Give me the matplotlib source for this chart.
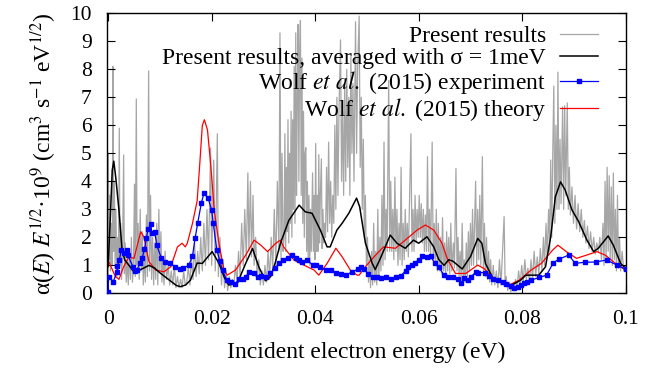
import numpy as np
import matplotlib
matplotlib.use("Agg")
import matplotlib.pyplot as plt

# ---- data (energies in meV, values in 1e-9 cm^3 s^-1 eV^1/2) ----------------
pres_mev = [
    0.0, 0.05, 0.15, 0.3, 0.45, 0.6, 0.8, 0.93, 1.05, 1.2, 1.35, 1.5, 1.7, 1.85, 2.0, 2.16, 2.3, 2.45, 2.6, 2.8,
    3.0, 3.15, 3.3, 3.5, 3.7, 3.9, 4.1, 4.3, 4.5, 4.7, 4.9, 5.1, 5.25, 5.45, 5.6, 5.8, 6.0, 6.2, 6.4, 6.6,
    6.8, 7.0, 7.2, 7.4, 7.6, 7.83, 8.0, 8.2, 8.4, 8.6, 8.8, 9.0, 9.2, 9.4, 9.6, 9.8, 10.0, 10.2, 10.4, 10.6,
    10.8, 11.0, 11.3, 11.6, 11.9, 12.2, 12.5, 12.8, 13.1, 13.4, 13.7, 14.0, 14.3, 14.6, 14.9, 15.2, 15.5, 15.8, 16.1, 16.4,
    16.7, 17.0, 17.3, 17.6, 17.9, 18.2, 18.5, 18.8, 19.1, 19.4, 19.8, 20.0, 20.4, 20.7, 21.1, 21.3, 21.6, 21.9, 22.2, 22.5,
    22.8, 23.1, 23.4, 23.7, 24.0, 24.3, 24.6, 24.9, 25.2, 25.5, 25.8, 26.1, 26.4, 26.7, 27.0, 27.2, 27.5, 27.7, 28.0, 28.2,
    28.5, 28.8, 29.1, 29.4, 29.7, 30.0, 30.3, 30.6, 30.9, 31.2, 31.5, 31.8, 32.1, 32.4, 32.7, 33.0, 33.2, 33.4, 33.6, 33.8,
    34.0, 34.15, 34.3, 34.45, 34.6, 34.75, 34.9, 35.05, 35.2, 35.35, 35.5, 35.65, 35.8, 35.95, 36.1, 36.25, 36.4, 36.55, 36.7, 36.85,
    37.0, 37.15, 37.3, 37.45, 37.6, 37.75, 37.9, 38.05, 38.2, 38.35, 38.5, 38.65, 38.8, 38.95, 39.1, 39.25, 39.5, 39.65, 39.8, 39.95,
    40.1, 40.25, 40.4, 40.55, 40.7, 40.85, 41.0, 41.2, 41.35, 41.5, 41.65, 41.8,
    42.0, 42.2, 42.4, 42.6, 42.8, 43.0, 43.2, 43.4, 43.6, 43.8, 44.0, 44.2, 44.4, 44.6, 44.9, 45.1, 45.3, 45.5, 45.7, 45.9,
    46.1, 46.3, 46.5, 46.7, 46.9, 47.1, 47.3, 47.5, 47.8, 48.0, 48.2, 48.5, 48.7, 48.9, 49.1, 49.3, 49.5, 49.7, 49.9, 50.1,
    50.3, 50.5, 50.7, 50.9, 51.1, 51.3, 51.5, 51.7, 51.9, 52.1, 52.3, 52.5, 52.7, 52.9, 53.1, 53.3, 53.5, 53.7, 53.9, 54.2,
    54.4, 54.6, 54.8, 55.0, 55.2, 55.4, 55.6, 55.8, 56.0, 56.2, 56.4, 56.6, 56.8, 57.0, 57.2, 57.4, 57.6, 57.8,
    58.0, 58.2, 58.5, 58.7, 58.9, 59.1, 59.3, 59.5, 59.7, 59.9, 60.1, 60.3, 60.5, 60.7, 60.9, 61.1, 61.3, 61.5, 61.7, 61.9,
    62.1, 62.3, 62.6, 62.8, 63.0, 63.2, 63.4, 63.6, 63.8, 64.0, 64.2, 64.4, 64.6, 64.8, 65.0, 65.2, 65.4, 65.6,
    65.8, 66.0, 66.2, 66.4, 66.7, 66.9, 67.2, 67.4, 67.6, 67.8, 68.0, 68.2, 68.4, 68.6, 68.8, 69.0, 69.2, 69.4, 69.6, 69.8,
    70.0, 70.2, 70.4, 70.6, 71.0, 71.2, 71.4, 71.6, 71.8, 72.0, 72.3, 72.5, 72.7, 72.9, 73.1, 73.3, 73.5, 73.7, 73.9, 74.1,
    74.4, 74.7, 75.0, 75.3, 75.6, 75.9, 76.2, 76.5, 76.7, 76.9, 77.2, 77.5, 77.8, 78.1, 78.4, 78.7, 79.0, 79.3, 79.6, 79.9,
    80.2, 80.5, 80.8, 81.1, 81.4,
    81.7, 82.0, 82.3, 82.6, 82.9, 83.2, 83.5, 83.8, 84.1, 84.3, 84.6, 84.8, 85.1, 85.3, 85.5, 85.7, 85.9, 86.1, 86.3, 86.5,
    86.7, 86.9, 87.1, 87.3, 87.5, 87.8, 88.0, 88.2, 88.4, 88.7, 88.9, 89.1, 89.3, 89.6, 89.9, 90.2, 90.5, 90.8, 91.1, 91.4,
    91.7, 92.0, 92.3, 92.6, 92.9, 93.2, 93.5, 93.8, 94.1, 94.4, 94.7, 95.0, 95.3, 95.6, 95.8, 96.0, 96.2, 96.4, 96.6, 96.8,
    97.0, 97.2, 97.4, 97.6, 97.8, 98.0, 98.2, 98.4, 98.6, 98.8, 99.0, 99.3, 99.6, 100.0,
]
pres_val = [
    0.3, 5.0, 1.2, 3.5, 0.8, 2.5, 1.0, 8.1, 1.5, 4.0, 0.9, 3.0, 0.6, 2.0, 0.7, 5.9, 1.0, 2.5, 0.5, 1.5,
    4.94, 0.7, 1.8, 0.4, 1.2, 0.3, 1.6, 0.5, 2.0, 0.4, 1.0, 3.9, 0.6, 6.94, 1.0, 2.5, 0.5, 3.0, 0.8, 2.2,
    0.3, 1.5, 0.4, 2.8, 0.6, 7.94, 0.8, 3.5, 0.5, 2.0, 0.3, 1.8, 0.5, 2.5, 0.3, 3.0, 0.8, 2.2, 0.4, 1.2,
    0.3, 1.5, 0.5, 1.0, 0.3, 0.8, 0.3, 1.0, 0.2, 0.6, 0.2, 0.5, 0.2, 0.8, 0.3, 0.4, 1.0, 0.3, 1.3, 0.5,
    1.8, 0.6, 1.5, 0.7, 2.0, 0.8, 2.5, 1.0, 3.0, 1.2, 5.19, 1.0, 4.76, 0.8, 5.7, 0.6, 2.0, 0.3, 1.2, 0.2,
    0.8, 0.1, 0.6, 0.2, 0.5, 0.3, 1.0, 0.4, 1.5, 0.6, 2.5, 1.0, 3.0, 1.2, 4.3, 1.5, 4.0, 1.3, 3.5, 1.0,
    2.0, 0.5, 1.2, 0.3, 0.8, 0.3, 1.0, 0.4, 1.5, 0.5, 2.0, 0.8, 3.0, 1.0, 4.0, 1.5, 9.3, 1.2, 5.0, 1.5,
    2.0, 5.7, 1.5, 4.5, 2.2, 6.2, 1.8, 5.0, 2.5, 6.5, 2.0, 6.2, 3.0, 8.1, 2.5, 9.3, 3.5, 7.0, 9.6, 4.0,
    8.5, 9.74, 3.5, 8.4, 2.5, 6.5, 2.0, 5.0, 5.2, 1.5, 4.0, 1.2, 3.5, 1.0, 3.0, 1.5, 4.3, 1.5, 3.5, 1.2,
    5.35, 1.5, 3.5, 1.5, 4.95, 1.8, 3.5, 4.8, 1.6, 3.0, 1.8, 2.5,
    2.0, 4.5, 2.2, 5.4, 2.5, 4.0, 2.0, 3.5, 2.5, 6.0, 3.0, 7.0, 3.5, 6.5, 9.05, 4.0, 6.5, 3.5, 7.5, 4.0,
    8.0, 4.5, 7.0, 3.5, 8.5, 5.0, 7.5, 4.0, 9.7, 5.0, 8.0, 9.9, 4.5, 7.0, 3.0, 5.5, 2.0, 3.5, 1.0, 2.0,
    0.4, 1.2, 0.2, 1.5, 0.3, 2.5, 0.4, 1.5, 0.3, 3.0, 0.5, 2.0, 0.8, 3.5, 1.0, 5.4, 1.2, 3.0, 1.5, 7.6,
    1.5, 4.0, 1.5, 3.0, 1.2, 4.15, 1.5, 3.0, 1.0, 2.5, 1.2, 4.5, 1.0, 2.5, 1.2, 3.0, 1.5, 2.5,
    1.3, 3.0, 5.7, 1.5, 3.0, 1.5, 3.5, 1.8, 3.0, 2.0, 3.5, 2.0, 3.2, 1.8, 3.0, 1.5, 2.8, 1.5, 4.88, 1.5,
    3.0, 1.2, 5.4, 1.2, 2.5, 1.0, 3.0, 0.8, 2.5, 0.8, 2.0, 0.7, 2.7, 0.8, 1.8, 0.6, 2.2, 0.8,
    2.0, 0.7, 2.5, 0.8, 1.8, 0.9, 4.46, 0.8, 2.0, 0.6, 1.5, 0.5, 2.5, 0.5, 1.2, 0.4, 1.8, 0.6, 2.2, 0.8,
    2.5, 1.0, 3.0, 1.0, 4.0, 1.0, 3.0, 1.2, 3.5, 1.0, 4.88, 0.8, 2.5, 0.6, 2.0, 0.5, 1.5, 0.4, 1.2, 0.3,
    1.0, 0.3, 0.8, 0.2, 1.2, 0.3, 1.5, 2.74, 0.3, 0.6, 0.1, 0.4, 0.05, 0.3, 0.1, 0.5, 0.2, 0.8, 0.3, 1.0,
    0.4, 1.2, 0.5, 0.9, 0.4,
    1.2, 0.5, 1.5, 0.6, 1.3, 0.7, 1.6, 0.8, 2.0, 1.0, 2.5, 1.3, 3.0, 1.5, 4.76, 2.0, 5.0, 7.4, 2.5, 6.0,
    3.0, 7.9, 3.0, 5.5, 3.2, 6.66, 3.0, 6.7, 3.5, 6.8, 3.0, 4.5, 2.8, 3.8, 2.5, 3.5, 2.3, 3.2, 2.2, 3.0,
    2.0, 2.6, 1.8, 2.4, 1.6, 2.2, 1.5, 2.0, 1.4, 1.8, 1.5, 2.0, 1.2, 2.5, 1.0, 4.0, 1.2, 4.5, 1.5, 4.2,
    1.2, 3.8, 1.0, 4.3, 1.2, 3.0, 0.8, 3.5, 0.9, 2.0, 0.8, 1.5, 0.8, 1.0,
]

avg_mev = [0.0, 0.4, 0.8, 1.1, 1.5, 2.1, 2.7, 3.2, 3.7, 5.0, 6.3, 7.9, 9.0, 10.1, 12.0, 13.2, 14.0, 15.0,
           15.9, 17.2, 18.2, 20.1, 21.4, 22.5, 23.3, 25.0, 26.6, 27.9, 29.1, 30.4, 31.4, 32.3, 33.3, 34.9,
           36.9, 38.1, 39.4, 41.0, 42.3, 42.9, 44.2, 45.2, 46.5, 48.0, 48.6, 49.7, 51.0, 51.6, 52.6, 54.5,
           55.8, 57.4, 59.0, 60.0, 61.6, 62.9, 63.9, 64.9, 65.8, 66.6, 68.4, 70.0, 71.4, 72.2, 72.9, 74.5,
           76.4, 78.0, 79.7, 80.7, 83.2, 84.5, 85.5, 86.4, 87.4, 88.3, 89.6, 90.9, 92.5, 93.8, 94.7, 96.6,
           97.6, 99.0, 100.0]
avg_val = [0.95, 2.6, 4.4, 4.72, 4.1, 2.97, 1.55, 1.2, 1.08, 0.77, 0.85, 1.0, 0.9, 0.72, 0.45, 0.28, 0.24, 0.3,
           0.47, 1.08, 1.07, 1.49, 1.08, 0.55, 0.3, 0.37, 1.08, 1.6, 0.95, 0.45, 0.6, 1.1, 1.79, 2.6,
           3.15, 2.91, 2.86, 2.26, 1.66, 1.66, 2.26, 2.5, 2.86, 3.4, 3.09, 1.8, 1.08, 0.85, 1.25, 2.08,
           1.79, 1.61, 1.9, 1.79, 2.02, 1.66, 1.2, 1.0, 1.2, 1.15, 0.87, 1.31, 1.96, 1.79, 1.07, 0.47,
           0.36, 0.3, 0.47, 0.65, 0.65, 0.95, 2.02, 3.45, 3.98, 3.69, 2.98, 2.56, 1.9, 1.49, 1.61, 2.05,
           1.72, 1.07, 0.89]

exp_mev = [0.0, 0.1, 1.0, 1.7, 1.8, 2.2, 2.5, 3.0, 3.7, 3.8, 4.8, 5.1, 5.6, 6.1, 6.6, 7.0, 7.4, 7.7, 8.2, 8.5,
           9.0, 9.4, 10.3, 11.0, 11.9, 13.0, 13.9, 14.5, 15.6, 16.3, 16.8, 17.3, 18.0, 18.5, 19.3, 20.0, 20.3,
           21.0, 21.6, 22.1, 22.9, 23.7, 24.5, 25.3, 26.0, 26.6, 27.2, 28.1, 28.9, 29.5, 30.5, 31.3, 32.2,
           33.0, 33.7, 34.7, 35.6, 36.3, 36.9, 37.5, 38.5, 39.5, 40.1, 41.0, 42.0, 43.0, 44.0, 44.9, 45.9,
           47.2, 48.2, 48.9, 49.5, 50.3, 51.1, 52.0, 52.7, 53.6, 54.6, 55.6, 56.5, 57.5, 57.9, 58.8, 59.2,
           60.0, 60.7, 61.7, 62.3, 63.1, 63.9, 64.9, 65.7, 66.7, 67.5, 68.2, 68.7, 69.5, 70.1, 71.1, 71.5,
           72.8, 73.5, 74.3, 75.3, 76.3, 76.9, 77.9, 78.5, 79.1, 79.7, 80.4, 81.0, 81.7, 83.3, 84.7, 86.0,
           87.1, 89.0, 90.2, 92.1, 94.2, 96.3, 98.4, 100.0]
exp_val = [0.05, 0.6, 0.42, 0.75, 0.97, 1.19, 1.55, 1.43, 1.55, 1.37, 0.95, 0.81, 0.83, 1.09, 1.25, 1.57, 1.96,
           2.29, 2.46, 2.14, 2.2, 1.72, 1.25, 1.13, 1.07, 0.95, 0.86, 0.89, 1.01, 1.33, 1.96, 2.5, 3.21, 3.57,
           3.41, 2.98, 2.52, 1.55, 1.15, 0.83, 0.47, 0.41, 0.33, 0.5, 0.5, 0.59, 0.77, 0.71, 0.57, 0.62, 0.57,
           0.71, 0.89, 1.07, 1.19, 1.27, 1.37, 1.28, 1.19, 1.13, 1.19, 1.01, 1.01, 0.93, 0.83, 0.83, 0.71, 0.68,
           0.65, 0.77, 0.86, 0.93, 0.86, 0.69, 0.59, 0.57, 0.54, 0.57, 0.51, 0.57, 0.62, 0.81, 0.95, 1.01, 1.09,
           1.19, 1.33, 1.31, 1.33, 1.07, 0.93, 0.65, 0.59, 0.57, 0.5, 0.36, 0.54, 0.47, 0.59, 0.77, 0.74, 0.74,
           0.62, 0.51, 0.47, 0.39, 0.33, 0.26, 0.18, 0.24, 0.3, 0.36, 0.41, 0.47, 0.57, 0.65, 1.09, 1.22, 1.37,
           1.07, 1.11, 1.12, 1.19, 1.0, 0.86]

theo_mev = [0.0, 1.4, 2.1, 3.0, 4.0, 5.0, 6.3, 6.9, 7.9, 9.2, 10.8, 12.1, 13.4, 14.3, 14.9, 15.3, 16.3, 17.2,
            17.7, 18.2, 18.6, 19.2, 19.8, 20.5, 21.4, 22.4, 23.0, 24.6, 26.6, 28.2, 29.5, 30.8, 32.4, 33.3,
            33.9, 35.9, 37.8, 39.8, 40.7, 42.3, 44.0, 45.2, 46.8, 48.1, 48.5, 49.7, 51.4, 53.2, 55.5, 57.4,
            59.7, 61.3, 62.9, 64.5, 65.5, 67.1, 69.1, 71.4, 72.6, 74.2, 76.2, 77.5, 79.4, 81.7, 83.7, 85.9,
            86.9, 88.5, 90.5, 92.5, 94.4, 96.0, 98.0, 100.0]
theo_val = [1.19, 0.6, 0.5, 0.95, 1.3, 1.25, 2.2, 2.02, 1.13, 0.83, 0.77, 0.95, 1.66, 1.79, 1.66, 1.79, 2.5, 3.3,
            4.6, 6.0, 6.2, 5.83, 4.64, 2.98, 1.79, 0.83, 0.65, 0.83, 1.37, 1.9, 1.72, 1.49, 1.79, 1.9,
            1.66, 1.19, 1.01, 0.83, 0.65, 1.07, 1.61, 1.31, 0.83, 0.65, 0.65, 0.95, 1.31, 1.66, 1.61, 1.9,
            2.26, 2.44, 2.26, 1.79, 1.25, 0.71, 0.71, 1.01, 0.89, 0.59, 0.36, 0.3, 0.47, 0.83, 1.07, 1.55,
            1.72, 1.49, 1.25, 1.37, 1.49, 1.37, 1.07, 0.83]

x_ticks = [0, 0.02, 0.04, 0.06, 0.08, 0.1]
x_ticklabels = ["0", "0.02", "0.04", "0.06", "0.08", "0.1"]
y_ticks = list(range(0, 11))

# ---- style ---------------------------------------------------------------
SERIF = ["Liberation Serif", "DejaVu Serif"]
plt.rcParams.update({
    "font.family": SERIF,
    "mathtext.fontset": "stix",
    "font.size": 17,
})

fig = plt.figure(figsize=(6.65, 3.69), dpi=100)
ax = fig.add_axes([0.161, 0.205, 0.780, 0.759])

mev = 1e-3
ax.plot(np.array(pres_mev) * mev, pres_val, color="#a6a6a6", lw=0.9, label="Present results", zorder=1)
ax.plot(np.array(avg_mev) * mev, avg_val, color="black", lw=1.1,
        label=r"Present results, averaged with σ = 1meV", zorder=3)
ax.plot(np.array(exp_mev) * mev, exp_val, color="#0000ff", lw=0.9, marker="s", ms=3.2,
        label=r"Wolf $\mathit{et\ al.}$ (2015) experiment", zorder=4)
ax.plot(np.array(theo_mev) * mev, theo_val, color="#ff0000", lw=0.9,
        label=r"Wolf $\mathit{et\ al.}$ (2015) theory", zorder=2)

ax.set_xlim(-0.0002, 0.1)
ax.set_ylim(0, 10)
ax.set_xticks(x_ticks)
ax.set_xticklabels(x_ticklabels)
ax.set_yticks(y_ticks)
ax.tick_params(direction="in", length=6, width=0.8, top=True, right=True,
               labelsize=15.5)
ax.tick_params(axis="y", pad=11)
ax.tick_params(axis="x", pad=12)
for s in ax.spines.values():
    s.set_linewidth(1.0)

ax.set_xlabel("Incident electron energy (eV)", labelpad=9)
ax.set_ylabel(r"α($E$) $E^{1/2}$·10$^9$ (cm$^3$ s$^{-1}$ eV$^{1/2}$)", labelpad=8)

leg = ax.legend(loc="upper right", bbox_to_anchor=(0.946, 0.955), frameon=False,
                markerfirst=False, handlelength=1.6, handletextpad=0.6,
                labelspacing=0.0, borderpad=0, borderaxespad=0)

fig.savefig("out.png", dpi=100)
